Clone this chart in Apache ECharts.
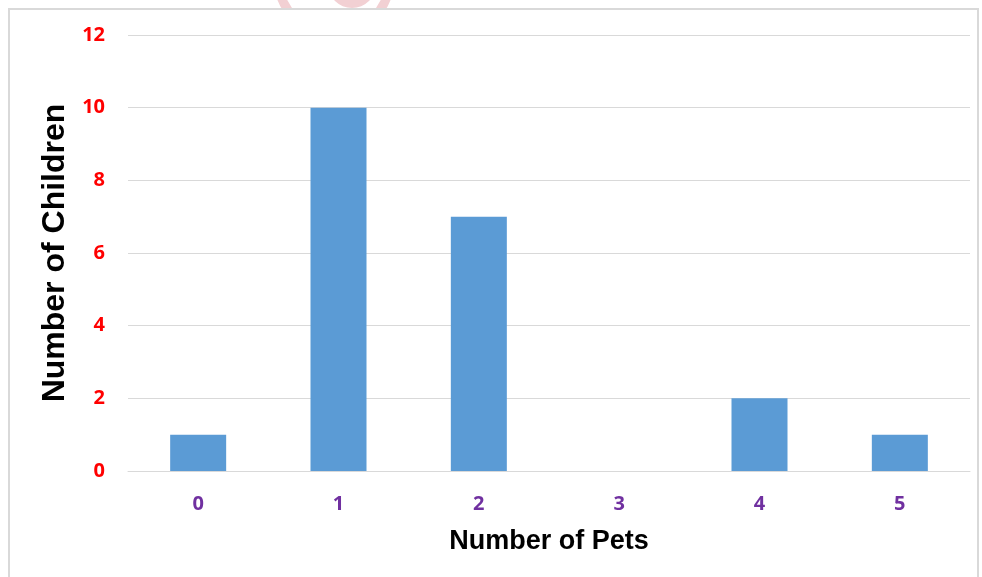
<!DOCTYPE html>
<html><head><meta charset="utf-8">
<script src="https://cdn.jsdelivr.net/npm/echarts@6/dist/echarts.min.js"></script>
<style>html,body{margin:0;padding:0;background:#fff}#c{width:982px;height:577px}</style>
</head><body><div id="c"></div>
<script>
const categories = ['0','1','2','3','4','5'];
const children = [1, 10, 7, 0, 2, 1];
const yTicks = [0, 2, 4, 6, 8, 10, 12];

const chart = echarts.init(document.getElementById('c'));
chart.setOption({
  animation: false,
  graphic: [
    { type: 'circle', z: -30, silent: true, shape: {cx: 334, cy: -22, r: 56},
      style: {fill: 'none', stroke: '#F2D0D3', lineWidth: 9} },
    { type: 'circle', z: -30, silent: true, shape: {cx: 352, cy: -16, r: 24},
      style: {fill: '#F2D0D3'} },
    { type: 'rect', z: -20, silent: true, shape: {x: 9, y: 9, width: 969, height: 590},
      style: {fill: '#fff', stroke: '#D9D9D9', lineWidth: 2} }
  ],
  grid: {left: 128, right: 12, top: 35, bottom: 106},
  xAxis: {
    type: 'category', data: categories,
    name: 'Number of Pets', nameLocation: 'middle', nameGap: 57,
    nameTextStyle: {fontFamily: 'Liberation Sans, Arial', fontWeight: 'bold', fontSize: 27, color: '#000'},
    axisLine: {lineStyle: {color: '#D9D9D9', width: 1}},
    axisTick: {show: false},
    axisLabel: {color: '#7030A0', fontWeight: 'bold', fontSize: 20, fontFamily: 'Open Sans, Liberation Sans', margin: 23}
  },
  yAxis: {
    type: 'value', min: yTicks[0], max: yTicks[yTicks.length-1], interval: 2,
    name: 'Number of Children', nameLocation: 'middle', nameGap: 53,
    nameTextStyle: {fontFamily: 'Liberation Sans, Arial', fontWeight: 'bold', fontSize: 32, color: '#000'},
    axisLine: {show: false}, axisTick: {show: false},
    splitLine: {lineStyle: {color: '#D9D9D9', width: 1}},
    axisLabel: {color: '#FF0000', fontWeight: 'bold', fontSize: 20, fontFamily: 'Open Sans, Liberation Sans', margin: 23}
  },
  series: [{
    type: 'bar', data: children, barWidth: 56, z: 3,
    itemStyle: {color: '#5B9BD5'}
  }]
});
</script></body></html>
